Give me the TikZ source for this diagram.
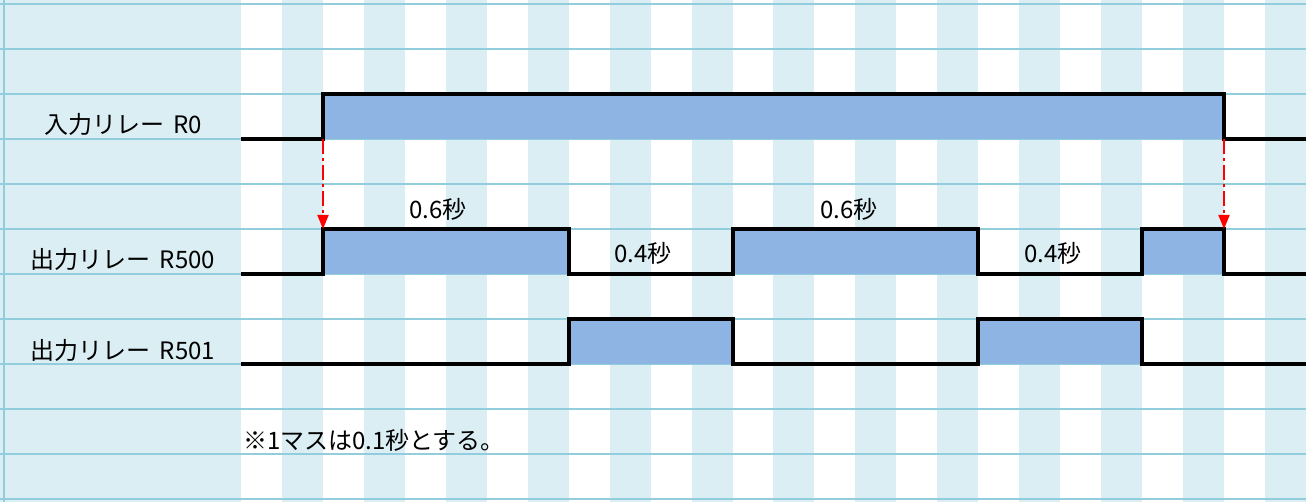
\documentclass[tikz,border=0pt]{standalone}
\usepackage{fontspec}
\setmainfont{Noto Sans CJK JP}
\usepackage{xcolor}
\usetikzlibrary{arrows.meta}
\definecolor{cellblue}{RGB}{218,238,243}
\definecolor{gridblue}{RGB}{146,205,221}
\definecolor{pulse}{RGB}{141,180,226}

\begin{document}
\begin{tikzpicture}[x=0.5pt,y=-0.5pt, >=latex,
    wave/.style={line width=2pt},
    grid line/.style={gridblue,line width=0.6pt},
    trig/.style={red,line width=1pt,dash pattern=on 7.5pt off 2pt on 1.5pt off 2pt,
        -{Triangle[width=5.5pt,length=7pt]}},
    lbl/.style={font=\fontsize{12}{14}\selectfont,inner sep=0pt}]
    \useasboundingbox (0,0) rectangle (1306,502);
    \fill[cellblue] (0,0) rectangle (241,502);
    \foreach \k in {1,3,...,25}
        \fill[cellblue] ({241+\k*40.96},0) rectangle ++(40.96,502);
    \foreach \y in {4,49,...,499}
        \draw[grid line] (0,\y) -- (1306,\y);
    \draw[grid line] (4,0) -- (4,502);
    \fill[pulse] (323,94) rectangle (1224,139);
    \fill[pulse] (323,229) rectangle (569,274);
    \fill[pulse] (733,229) rectangle (978,274);
    \fill[pulse] (1142,229) rectangle (1224,274);
    \fill[pulse] (569,319) rectangle (733,364);
    \fill[pulse] (978,319) rectangle (1142,364);
    \draw[wave] (241,139)-- ++(82,0)-- ++(0,-45)-- ++(901,0)-- ++(0,45)-- ++(82,0);
    \draw[wave] (241,274)-- ++(82,0)-- ++(0,-45)-- ++(246,0)-- ++(0,45)--
        ++(164,0)-- ++(0,-45)-- ++(245,0)-- ++(0,45)-- ++(164,0)--
        ++(0,-45)-- ++(82,0)-- ++(0,45)-- ++(82,0);
    \draw[wave] (241,364)-- ++(328,0)-- ++(0,-45)-- ++(164,0)-- ++(0,45)--
        ++(245,0)-- ++(0,-45)-- ++(164,0)-- ++(0,45)-- ++(164,0);
    \coordinate (r0up) at (323,139);
    \coordinate (r500up) at (323,229);
    \coordinate (r0down) at (1224,139);
    \coordinate (r500down) at (1224,229);
    \draw[trig] (r0up) -- (r500up);
    \draw[trig] (r0down) -- (r500down);
    \node[lbl] (r0) at (123,124) {入力リレー\hspace{0.15em} R0};
    \node[lbl] (r500) at (123,259) {出力リレー\hspace{0.15em} R500};
    \node[lbl] (r501) at (123,350) {出力リレー\hspace{0.15em} R501};
    \node[lbl] (on1) at (438,209) {0.6秒};
    \node[lbl] (off1) at (643,253) {0.4秒};
    \node[lbl] (on2) at (849,209) {0.6秒};
    \node[lbl] (off2) at (1053,253) {0.4秒};
    \node[lbl] (note) at (374,440) {※1マスは0.1秒とする。};
\end{tikzpicture}
\end{document}
